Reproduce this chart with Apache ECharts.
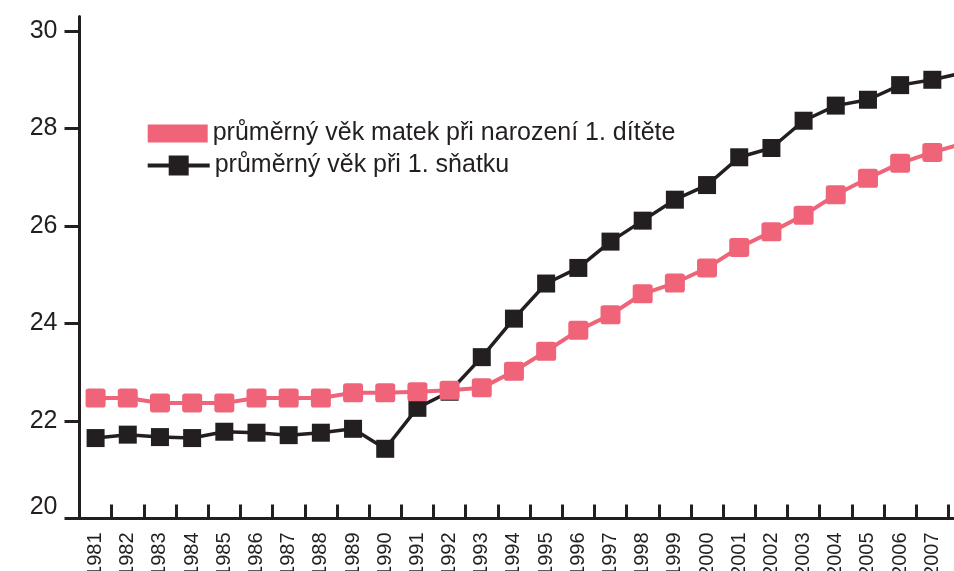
<!DOCTYPE html>
<html>
<head>
<meta charset="utf-8">
<style>
  html, body { margin: 0; padding: 0; background: #fff; }
  #chart { width: 954px; height: 571px; }
</style>
<script src="https://cdn.jsdelivr.net/npm/echarts@6/dist/echarts.min.js"></script>
</head>
<body>
<div id="chart"></div>
<script>
// years (2008 sits just past the right edge, like in the source picture)
const years = ['1981', '1982', '1983', '1984', '1985', '1986', '1987', '1988', '1989', '1990',
  '1991', '1992', '1993', '1994', '1995', '1996', '1997', '1998', '1999', '2000',
  '2001', '2002', '2003', '2004', '2005', '2006', '2007', '2008']

const firstBirthAge = [22.47, 22.47, 22.37, 22.37, 22.37, 22.47, 22.47, 22.47, 22.58, 22.58,
  22.6, 22.63, 22.68, 23.02, 23.43, 23.86, 24.18, 24.61, 24.83, 25.14,
  25.56, 25.88, 26.22, 26.64, 26.98, 27.29, 27.51, 27.7]

const firstMarriageAge = [21.65, 21.72, 21.67, 21.65, 21.78, 21.76, 21.71, 21.76, 21.84, 21.43,
  22.27, 22.6, 23.31, 24.1, 24.82, 25.14, 25.68, 26.11, 26.54, 26.84,
  27.41, 27.6, 28.16, 28.47, 28.59, 28.89, 29.0, 29.15]

const yTicks = [20, 22, 24, 26, 28, 30]

const nameBirth = 'průměrný věk matek při narození 1. dítěte'
const nameMarriage = 'průměrný věk při 1. sňatku'

const ink = '#231f20'
const pink = '#ef6479'
const font = '"Liberation Sans", Arial, sans-serif'

const chart = echarts.init(document.getElementById('chart'))

chart.setOption({
  animation: false,
  textStyle: { fontFamily: font },
  grid: {
    left: 79.5,
    right: -26.6,
    top: 16.4,
    bottom: 52.5,
    containLabel: false,
    outerBoundsMode: 'none'
  },
  legend: [
    {
      left: 142.7,
      top: 116,
      itemWidth: 60,
      itemHeight: 18,
      data: [{ name: nameBirth, icon: 'rect' }],
      textStyle: { color: ink, fontSize: 25, fontFamily: font }
    },
    {
      left: 140.7,
      top: 148,
      itemWidth: 62,
      itemHeight: 25,
      data: [nameMarriage],
      lineStyle: { width: 4 },
      textStyle: { color: ink, fontSize: 25, fontFamily: font }
    }
  ],
  xAxis: {
    type: 'category',
    data: years,
    boundaryGap: true,
    axisLine: { lineStyle: { color: ink, width: 3 } },
    axisTick: {
      show: true,
      inside: true,
      length: 14,
      interval: 0,
      lineStyle: { color: ink, width: 3 }
    },
    axisLabel: {
      interval: 0,
      rotate: 90,
      margin: 14,
      color: ink,
      fontSize: 20,
      fontFamily: font
    },
    splitLine: { show: false }
  },
  yAxis: {
    type: 'value',
    min: 20,
    max: 30.3,
    interval: 2,
    axisLine: { show: true, lineStyle: { color: ink, width: 3 } },
    axisTick: {
      show: true,
      length: 15,
      customValues: yTicks,
      lineStyle: { color: ink, width: 3 }
    },
    axisLabel: {
      customValues: yTicks,
      margin: 22,
      color: ink,
      fontSize: 25,
      fontFamily: font,
      formatter: function(v) {
        return v === 20 ? '{up|20}' : String(v)
      },
      rich: {
        up: { fontSize: 25, fontFamily: font, color: ink, padding: [0, 0, 22, 0] }
      }
    },
    splitLine: { show: false }
  },
  series: [
    {
      name: nameMarriage,
      type: 'line',
      data: firstMarriageAge,
      symbol: 'rect',
      symbolSize: 18,
      showAllSymbol: true,
      lineStyle: { color: ink, width: 3.5 },
      itemStyle: { color: ink }
    },
    {
      name: nameBirth,
      type: 'line',
      data: firstBirthAge,
      symbol: 'path://M3,0 H17 Q20,0 20,3 V17 Q20,20 17,20 H3 Q0,20 0,17 V3 Q0,0 3,0 Z',
      symbolSize: [20, 19],
      showAllSymbol: true,
      lineStyle: { color: pink, width: 4 },
      itemStyle: { color: pink }
    }
  ]
})
</script>
</body>
</html>
